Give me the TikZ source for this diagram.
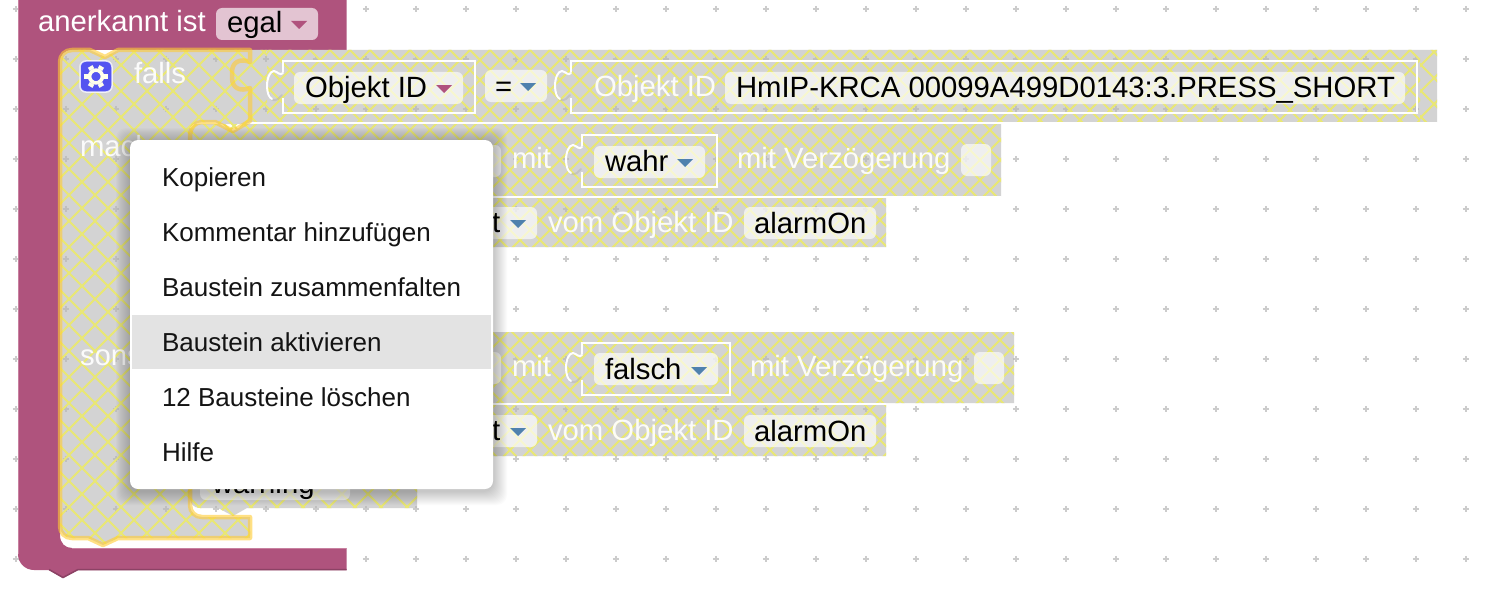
\documentclass[tikz,border=0pt]{standalone}
\usepackage{fontspec}
\setmainfont{Liberation Sans}
\definecolor{pinkblk}{HTML}{AF537D}
\definecolor{pinklite}{HTML}{C880A0}
\definecolor{pinkdark}{HTML}{8C4265}
\definecolor{graybk}{HTML}{D3D3D3}
\definecolor{hatchc}{HTML}{E9E774}
\definecolor{plusc}{HTML}{CCCCCC}
\definecolor{glow}{HTML}{FFCC33}
\definecolor{bluearr}{HTML}{4F81AD}
\definecolor{pinkarr}{HTML}{B0527D}
\definecolor{gearblue}{HTML}{5454F0}
\tikzset{
  lbl/.style={anchor=base west,inner sep=0pt,outer sep=0pt,font=\fontsize{29.3}{29.3}\selectfont,text=black},
  wlbl/.style={lbl,text=white,text opacity=.93},
  menuitem/.style={anchor=base west,inner sep=0pt,outer sep=0pt,font=\fontsize{26}{26}\selectfont,text=black!92},
  pill/.style={fill=white,fill opacity=.66,rounded corners=6pt},
  valbox/.style={draw=white,line width=2pt},
  tabline/.style={draw=white,line width=2pt,line cap=round},
  tabshade/.style={draw=black!35,line width=2pt,line cap=round,draw opacity=.35},
  hatchline/.style={draw=hatchc,line width=2pt},
}
\newcommand{\grayregion}{
  (72,50) -- (90,50) -- (105,57) -- (118,50) -- (250,50) -- (250,122) -- (233,131) -- (215,122) -- (202,122) .. controls (195,122) and (190,128) .. (190,135) -- (190,505) .. controls (190,512) and (195,517) .. (202,517) -- (250,517) -- (250,538) -- (118,538) -- (103,545) -- (88,538) -- (72,538) .. controls (65,538) and (60,533) .. (60,526) -- (60,62) .. controls (60,55) and (65,50) .. (72,50) -- cycle
  (250,50) -- (250,122) -- (1437,122) -- (1437,50) -- cycle
  (190,124) -- (190,196) -- (1001,196) -- (1001,124) -- cycle
  (190,198) -- (190,247) -- (886,247) -- (886,198) -- cycle
  (190,332) -- (190,403) -- (1014,403) -- (1014,332) -- cycle
  (190,405) -- (190,456) -- (886,456) -- (886,405) -- cycle
  (190,458) -- (190,498) .. controls (190,504) and (194,508) .. (200,508) -- (218,508) -- (233,516) -- (247,508) -- (417,508) -- (417,458) -- cycle
}
\newcommand{\widearea}{
  (72,50) -- (90,50) -- (105,57) -- (118,50) -- (250,50) -- (250,122) -- (233,131) -- (215,122) -- (202,122) .. controls (195,122) and (190,128) .. (190,135) -- (190,505) .. controls (190,512) and (195,517) .. (202,517) -- (250,517) -- (250,538) -- (118,538) -- (103,545) -- (88,538) -- (72,538) .. controls (65,538) and (60,533) .. (60,526) -- (60,62) .. controls (60,55) and (65,50) .. (72,50) -- cycle
  (190,458) -- (190,498) .. controls (190,504) and (194,508) .. (200,508) -- (218,508) -- (233,516) -- (247,508) -- (417,508) -- (417,458) -- cycle
  (250,50) -- (250,122) -- (267,122) -- (267,50) -- cycle
  (1420,50) -- (1420,122) -- (1437,122) -- (1437,50) -- cycle
}
\newcommand{\densearea}{
  (267,50) -- (267,122) -- (1420,122) -- (1420,50) -- cycle
  (190,124) -- (190,196) -- (1001,196) -- (1001,124) -- cycle
  (190,198) -- (190,247) -- (886,247) -- (886,198) -- cycle
  (190,332) -- (190,403) -- (1014,403) -- (1014,332) -- cycle
  (190,405) -- (190,456) -- (886,456) -- (886,405) -- cycle
}
\newcommand{\latticeW}{%
  \foreach \c in {0,26,...,2132} {
    \draw[hatchline] (\c+4,0) -- (\c+4-610,610);
    \draw[hatchline] (\c+4-624,0) -- (\c+4-14,610);
  }}
\newcommand{\latticeD}{%
  \foreach \c in {0,20,...,2140} {
    \draw[hatchline] (\c,0) -- (\c-610,610);
    \draw[hatchline] (\c-620,0) -- (\c-10,610);
  }}
\newcommand{\tri}[3]{\fill[#3] (#1,#2) -- ++(16,0) -- ++(-8,8) -- cycle;}
\newcommand{\valopen}[4]{% left, top, right, bottom: box with a gap where the tab joins
  \draw[valbox] (#1,#2+11) -- (#1,#2) -- (#3,#2) -- (#3,#4) -- (#1,#4) -- (#1,#4-15);
}
\newcommand{\tabshape}[3]{% x of box left, y of tab top, height
  \draw[tabshade] (#1-14,#2+22) .. controls (#1-14,#2+27) and (#1-9,#2+30) .. (#1-5,#2+27) -- (#1-1,#2+23);
  \draw[tabline] (#1,#2+1) .. controls (#1-3,#2+4) and (#1-5,#2) .. (#1-9,#2-1) .. controls (#1-13,#2-1) and (#1-16,#2+6) .. (#1-16,#2+14) .. controls (#1-16,#2+20) and (#1-14,#2+26) .. (#1-11,#2+27);
}
\begin{document}
\begin{tikzpicture}[x=1pt,y=-1pt]
\useasboundingbox (0,0) rectangle (1504,602);
\fill[white] (0,0) rectangle (1504,602);
% workspace grid
\foreach \gx in {16,66,...,1466} \foreach \gy in {9,59,...,559} {
  \draw[plusc,line width=1.8pt] (\gx-3.2,\gy) -- (\gx+3.2,\gy) (\gx,\gy-3.2) -- (\gx,\gy+3.2);
}
% outer pink block
\fill[pinkblk] (18,0) -- (346.5,0) -- (346.5,50) -- (72,50) .. controls (65,50) and (60,55) .. (60,62) -- (60,535) .. controls (60,543) and (65,548) .. (72,548) -- (346.5,548) -- (346.5,570) -- (78,570) -- (63,578) -- (49,570) -- (34,570) .. controls (25,570) and (18,563) .. (18,554) -- cycle;
\draw[pinklite,line width=1.2pt] (18.5,0) -- (18.5,554);
\draw[pinklite,line width=1.5pt] (72,548.7) -- (346,548.7);
\draw[pinkdark,line width=1.5pt] (346.5,569.5) -- (78,569.5) -- (63,577.5) -- (49,569.5);
% disabled blocks: gray with hatching
\fill[graybk] \grayregion;
\begin{scope}
\clip \grayregion;
\foreach \gx in {16,66,...,1466} \foreach \gy in {9,59,...,559} {
  \draw[black!25,line width=1.8pt] (\gx-3.2,\gy) -- (\gx+3.2,\gy) (\gx,\gy-3.2) -- (\gx,\gy+3.2);
}
\end{scope}
\begin{scope}
\clip \widearea;
\latticeW
\end{scope}
\begin{scope}
\clip \densearea;
\latticeD
\end{scope}
% separators
\draw[white,line width=2pt] (250,123) -- (1437,123);
\draw[white,line width=2pt] (190,197) -- (1001,197);
\draw[white,line width=2pt] (190,404) -- (886,404);
\draw[white,line width=2pt] (190,457) -- (417,457);
% selection outline
\draw[glow,line width=4.5pt,opacity=.6,line join=round]
  (72,50) -- (90,50) -- (105,57) -- (118,50) -- (250,50) -- (250,62) .. controls (240,58) and (232,62) .. (232,72) -- (232,78) .. controls (232,88) and (240,92) .. (250,88) -- (250,121) -- (233,131) -- (215,122) -- (202,122) .. controls (195,122) and (190,128) .. (190,135) -- (190,505) .. controls (190,512) and (195,517) .. (202,517) -- (250,517) -- (250,538) -- (118,538) -- (103,545) -- (88,538) -- (72,538) .. controls (65,538) and (60,533) .. (60,526) -- (60,62) .. controls (60,55) and (65,50) .. (72,50) -- cycle;
% header
\node[wlbl,text opacity=1] (tAner) at (38,32) {anerkannt ist};
\fill[pill] (216,8) rectangle (318,40);
\node[lbl] (tEgal) at (227,33) {egal};
\tri{291}{21}{pinkarr}
% gear
\fill[gearblue,draw=white,draw opacity=.8,line width=1.5pt,rounded corners=6pt] (80,61) rectangle (112,92);
\foreach \a in {0,60,...,300} {
  \fill[white!92!yellow] (96,76.5) ++(\a:8) ++(\a+90:2.6) -- ++(\a:3.6) -- ++(\a-90:5.2) -- ++(\a+180:3.6) -- cycle;
}
\draw[white!92!yellow,line width=3.6pt] (96,76.5) circle (6.4);
\node[wlbl] (tFalls) at (134,83) {falls};
\node[wlbl] (tMach) at (80,156) {mach};
\node[wlbl] (tSons) at (80,365) {sons};
% row 1
\valopen{283}{61}{475}{113}
\tabshape{283}{72}{40}
\fill[pill] (294,72) rectangle (463,104);
\node[lbl] (tObj) at (305,97) {Objekt ID};
\tri{436}{85}{pinkarr}
\fill[pill] (485,70) rectangle (547,102);
\node[lbl] (tEq) at (495,96) {=};
\tri{520}{83}{bluearr}
\valopen{571}{61}{1417}{113}
\tabshape{571}{72}{40}
\node[wlbl] (tObj2) at (594,96) {Objekt ID};
\fill[pill] (725,72) rectangle (1405,104);
\node[lbl] (tHm) at (736,97) {HmIP-KRCA 00099A499D0143:3.PRESS\_SHORT};
% row 2
\fill[pill] (440,145) rectangle (501,177);
\node[wlbl] (tMit) at (512,168) {mit};
\valopen{582}{135}{717}{187}
\tabshape{582}{146}{40}
\fill[pill] (594,146) rectangle (705,178);
\node[lbl] (tWahr) at (605,171) {wahr};
\tri{677}{159}{bluearr}
\node[wlbl] (tVz) at (737,168) {mit Verzögerung};
\fill[pill] (961,144) rectangle (991,176);
% row 3
\fill[pill] (440,207) rectangle (537,239);
\node[lbl] (tT1) at (492,232) {t};
\tri{510}{220}{bluearr}
\node[wlbl] (tVom) at (548,232) {vom Objekt ID};
\fill[pill] (744,207) rectangle (876,239);
\node[lbl] (tAl) at (754,233) {alarmOn};
% row 4
\fill[pill] (440,352) rectangle (501,384);
\node[wlbl] (tMit2) at (512,376) {mit};
\valopen{582}{343}{730}{395}
\tabshape{582}{354}{40}
\fill[pill] (594,353) rectangle (718,385);
\node[lbl] (tFa) at (605,379) {falsch};
\tri{691}{367}{bluearr}
\node[wlbl] (tVz2) at (750,376) {mit Verzögerung};
\fill[pill] (974,352) rectangle (1004,384);
% row 5
\fill[pill] (440,415) rectangle (537,447);
\node[lbl] (tT2) at (492,440) {t};
\tri{510}{428}{bluearr}
\node[wlbl] (tVom2) at (548,440) {vom Objekt ID};
\fill[pill] (744,415) rectangle (876,447);
\node[lbl] (tAl2) at (754,441) {alarmOn};
% row 6
\fill[pill] (200,468) rectangle (350,500);
\node[lbl] (tWarn) at (212,493) {warning};
% context menu shadow
\foreach \i in {1,...,14} {
  \fill[black,opacity=.016,rounded corners=10pt] (130-\i,140-\i+2) rectangle (493+\i,489+\i+2);
}
\fill[white,rounded corners=8pt] (130,140) rectangle (493,489);
\fill[black!11] (132,315) rectangle (491,369);
\node[menuitem] (m1) at (162,186) {Kopieren};
\node[menuitem] (m2) at (162,241) {Kommentar hinzufügen};
\node[menuitem] (m3) at (162,296) {Baustein zusammenfalten};
\node[menuitem] (m4) at (162,351) {Baustein aktivieren};
\node[menuitem] (m5) at (162,406) {12 Bausteine löschen};
\node[menuitem] (m6) at (162,461) {Hilfe};
\end{tikzpicture}
\end{document}
